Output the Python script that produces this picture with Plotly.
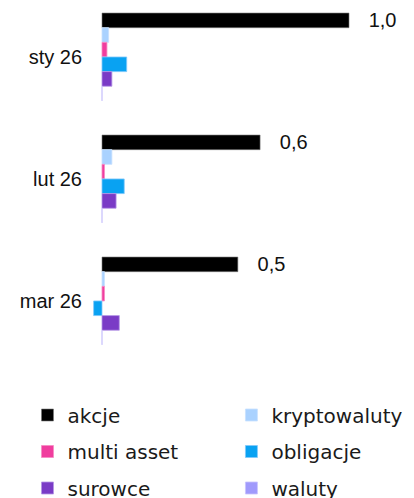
import plotly.graph_objects as go

categories = ["sty 26", "lut 26", "mar 26"]
series_names = ["akcje", "kryptowaluty", "multi asset", "obligacje", "surowce", "waluty"]
akcje = [1.0, 0.64, 0.55]
kryptowaluty = [0.027, 0.04, 0.01]
multi_asset = [0.02, 0.01, 0.01]
obligacje = [0.10, 0.09, -0.034]
surowce = [0.04, 0.057, 0.07]
waluty = [0.0, 0.0, 0.0]
akcje_labels = ["1,0", "0,6", "0,5"]

colors = ["#000000", "#aad2ff", "#f03d9e", "#09a2f2", "#7a3bc6", "#a09afc"]
edge = ["rgba(120,120,120,0.6)", "rgba(200,225,255,0.8)", "rgba(245,140,195,0.8)",
        "rgba(130,200,250,0.8)", "rgba(180,150,230,0.8)", "rgba(200,195,252,0.8)"]
values = [akcje, kryptowaluty, multi_asset, obligacje, surowce, waluty]
legends = ["legend", "legend2", "legend", "legend2", "legend", "legend2"]

fig = go.Figure()
for i, (name, vals) in enumerate(zip(series_names, values)):
    kw = {}
    if i == 0:
        kw = dict(text=["\u00a0\u00a0\u00a0" + t for t in akcje_labels], textposition="outside",
                  constraintext="none",
                  textfont=dict(family="Liberation Sans, Arial, sans-serif", size=20, color="#111111"),
                  cliponaxis=False)
    fig.add_trace(go.Bar(
        y=categories, x=vals, name=name, orientation="h",
        marker=dict(color=colors[i], line=dict(color=edge[i], width=1)),
        legend=legends[i], legendgroup=name, **kw))

legend_common = dict(orientation="v", xref="container", yref="container",
                     xanchor="left", yanchor="top", y=0.2058,
                     tracegroupgap=7.5,
                     font=dict(family="DejaVu Sans", size=20, color="#1a1a1a"),
                     bgcolor="rgba(0,0,0,0)", borderwidth=0, traceorder="grouped")

fig.update_layout(
    width=414, height=498,
    margin=dict(l=88, r=10, t=0, b=138, autoexpand=False),
    paper_bgcolor="white", plot_bgcolor="white",
    barmode="group", bargap=0.28, bargroupgap=0,
    showlegend=True,
    legend=dict(legend_common, x=0.0664),
    legend2=dict(legend_common, x=0.559),
    xaxis=dict(range=[-0.0567, 1.2227], showgrid=False, zeroline=False,
               showticklabels=False, showline=False, ticks=""),
    yaxis=dict(range=[2.484, -0.467], type="category", showgrid=False, zeroline=False,
               showline=False, ticks="", ticklabelstandoff=5,
               tickfont=dict(family="Liberation Sans, Arial, sans-serif", size=20, color="#111111")),
)

fig.write_html("out.html", config={"displayModeBar": False},
               post_script="document.body.style.margin='0';document.body.style.overflow='hidden';")
